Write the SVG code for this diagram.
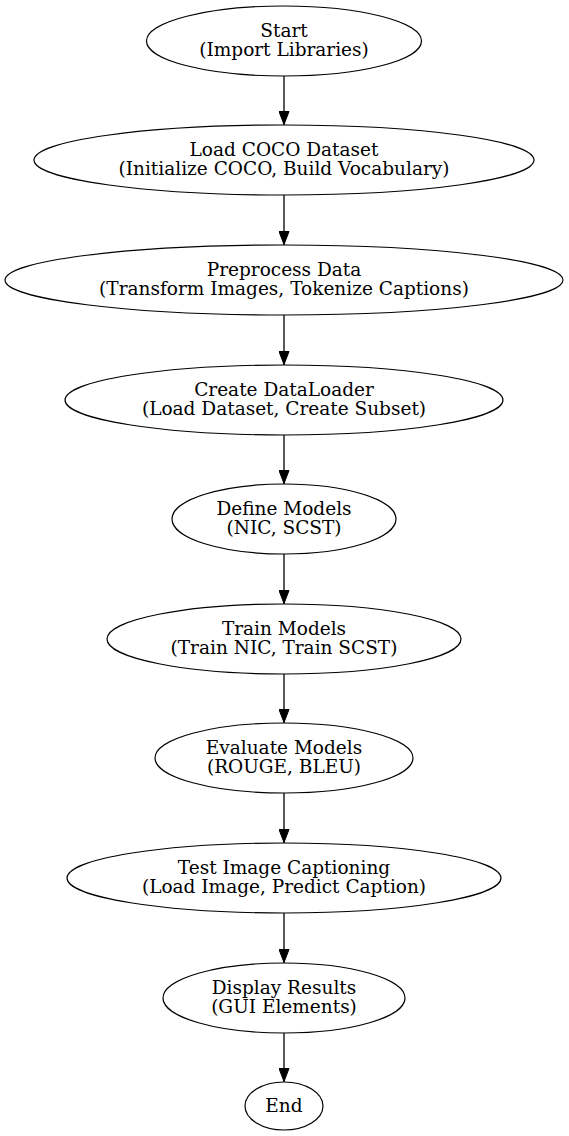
<svg xmlns="http://www.w3.org/2000/svg" width="569" height="1136" viewBox="0 0 569 1136">
<defs>
<marker id="arr" markerWidth="14" markerHeight="11" refX="14" refY="5.5" orient="auto" markerUnits="userSpaceOnUse" viewBox="0 0 14 11">
<path d="M0.5,0.5 L13.5,5.5 L0.5,10.5 Z" fill="#000" stroke="#000"/>
</marker>
<style>
ellipse{fill:none;stroke:#000;stroke-width:1.2}
text{font-family:"DejaVu Serif","Liberation Serif",serif;font-size:18.5px;text-anchor:middle;fill:#000}
.edge{stroke:#000;stroke-width:1.3;fill:none}
</style>
</defs>
<rect width="569" height="1136" fill="#fff"/>
<g id="n1"><ellipse cx="284" cy="41" rx="137.5" ry="35"/><text x="284" y="37">Start</text><text x="284" y="56">(Import Libraries)</text></g>
<g id="n2"><ellipse cx="284" cy="160" rx="250" ry="35"/><text x="284" y="156">Load COCO Dataset</text><text x="284" y="175">(Initialize COCO, Build Vocabulary)</text></g>
<g id="n3"><ellipse cx="284" cy="280" rx="279" ry="35"/><text x="284" y="276">Preprocess Data</text><text x="284" y="295">(Transform Images, Tokenize Captions)</text></g>
<g id="n4"><ellipse cx="284" cy="400" rx="219" ry="35"/><text x="284" y="396">Create DataLoader</text><text x="284" y="415">(Load Dataset, Create Subset)</text></g>
<g id="n5"><ellipse cx="284" cy="519" rx="112" ry="35"/><text x="284" y="515">Define Models</text><text x="284" y="534">(NIC, SCST)</text></g>
<g id="n6"><ellipse cx="284" cy="639" rx="177" ry="35"/><text x="284" y="635">Train Models</text><text x="284" y="654">(Train NIC, Train SCST)</text></g>
<g id="n7"><ellipse cx="284" cy="758" rx="129" ry="35"/><text x="284" y="754">Evaluate Models</text><text x="284" y="773">(ROUGE, BLEU)</text></g>
<g id="n8"><ellipse cx="284" cy="878" rx="217" ry="35"/><text x="284" y="874">Test Image Captioning</text><text x="284" y="893">(Load Image, Predict Caption)</text></g>
<g id="n9"><ellipse cx="284" cy="998" rx="121" ry="35"/><text x="284" y="994">Display Results</text><text x="284" y="1013">(GUI Elements)</text></g>
<g id="n10"><ellipse cx="284" cy="1106" rx="39" ry="24"/><text x="284" y="1112">End</text></g>
<g id="edges">
<line class="edge" x1="284" y1="76" x2="284" y2="125" marker-end="url(#arr)"/>
<line class="edge" x1="284" y1="195" x2="284" y2="245" marker-end="url(#arr)"/>
<line class="edge" x1="284" y1="315" x2="284" y2="365" marker-end="url(#arr)"/>
<line class="edge" x1="284" y1="435" x2="284" y2="484" marker-end="url(#arr)"/>
<line class="edge" x1="284" y1="554" x2="284" y2="604" marker-end="url(#arr)"/>
<line class="edge" x1="284" y1="674" x2="284" y2="723" marker-end="url(#arr)"/>
<line class="edge" x1="284" y1="793" x2="284" y2="843" marker-end="url(#arr)"/>
<line class="edge" x1="284" y1="913" x2="284" y2="963" marker-end="url(#arr)"/>
<line class="edge" x1="284" y1="1033" x2="284" y2="1082" marker-end="url(#arr)"/>
</g>
</svg>
